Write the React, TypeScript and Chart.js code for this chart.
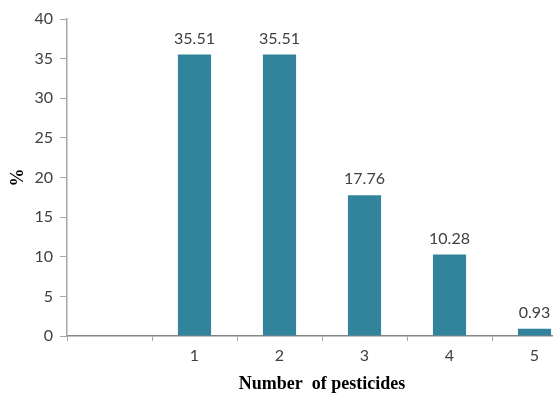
import React, { useEffect, useRef } from "react";
import { Chart, registerables } from "chart.js";

Chart.register(...registerables);

const categories = ["", "1", "2", "3", "4", "5"];
const percentValues = [null, 35.51, 35.51, 17.76, 10.28, 0.93];
const valueLabels = ["", "35.51", "35.51", "17.76", "10.28", "0.93"];
const yTicks = [0, 5, 10, 15, 20, 25, 30, 35, 40];

const barLabelPlugin = {
  id: "barLabels",
  afterDatasetsDraw(chart: any) {
    const ctx = chart.ctx;
    const meta = chart.getDatasetMeta(0);
    ctx.save();
    ctx.font = "16px Lato, 'Open Sans', sans-serif";
    ctx.fillStyle = "#404040";
    ctx.textAlign = "center";
    ctx.textBaseline = "bottom";
    meta.data.forEach((el: any, i: number) => {
      if (!valueLabels[i]) return;
      ctx.fillText(valueLabels[i], el.x, el.y - 8);
    });
    ctx.restore();
  },
};

export default function App() {
  const ref = useRef<HTMLCanvasElement>(null);
  useEffect(() => {
    if (!ref.current) return;
    const chart = new Chart(ref.current, {
      type: "bar",
      data: {
        labels: categories,
        datasets: [
          {
            data: percentValues as any,
            backgroundColor: "#31849B",
            barPercentage: 0.39,
            categoryPercentage: 1,
          },
        ],
      },
      options: {
        responsive: false,
        animation: false,
        layout: { padding: { top: 19, right: 3, left: 0, bottom: 0 } },
        plugins: { legend: { display: false }, tooltip: { enabled: false } },
        scales: {
          x: {
            offset: true,
            grid: {
              offset: true,
              drawOnChartArea: false,
              drawTicks: true,
              tickLength: 5,
              color: "#a6a6a6",
            },
            border: { color: "#868686", width: 1.5 },
            ticks: {
              color: "#404040",
              font: { family: "Lato, 'Open Sans', sans-serif", size: 16 },
              padding: 5,
            },
            title: {
              display: true,
              text: "Number  of pesticides",
              color: "#000",
              font: { family: "'Liberation Serif', 'DejaVu Serif', serif", size: 18, weight: "bold" },
              padding: { top: 4, bottom: 0 },
            },
            afterFit(scale: any) {
              scale.height = 59;
            },
          },
          y: {
            min: 0,
            max: 40,
            afterBuildTicks(scale: any) {
              scale.ticks = yTicks.map((v) => ({ value: v }));
            },
            grid: {
              drawOnChartArea: false,
              drawTicks: true,
              tickLength: 7,
              color: "#a6a6a6",
            },
            border: { color: "#a6a6a6", width: 1.5 },
            ticks: {
              color: "#404040",
              font: { family: "Lato, 'Open Sans', sans-serif", size: 16 },
              padding: 7,
            },
            title: {
              display: true,
              text: "%",
              color: "#000",
              font: { family: "'Liberation Serif', 'DejaVu Serif', serif", size: 18, weight: "bold" },
              padding: { top: 8, bottom: 0 },
            },
            afterFit(scale: any) {
              scale.width = 67;
            },
          },
        },
      },
      plugins: [barLabelPlugin],
    });
    return () => chart.destroy();
  }, []);
  return (
    <div
      style={{
        position: "fixed",
        left: 0,
        top: 0,
        width: 553,
        height: 395,
        overflow: "hidden",
        background: "#fff",
      }}
    >
      <canvas ref={ref} width={580} height={395} style={{ display: "block" }} />
    </div>
  );
}
